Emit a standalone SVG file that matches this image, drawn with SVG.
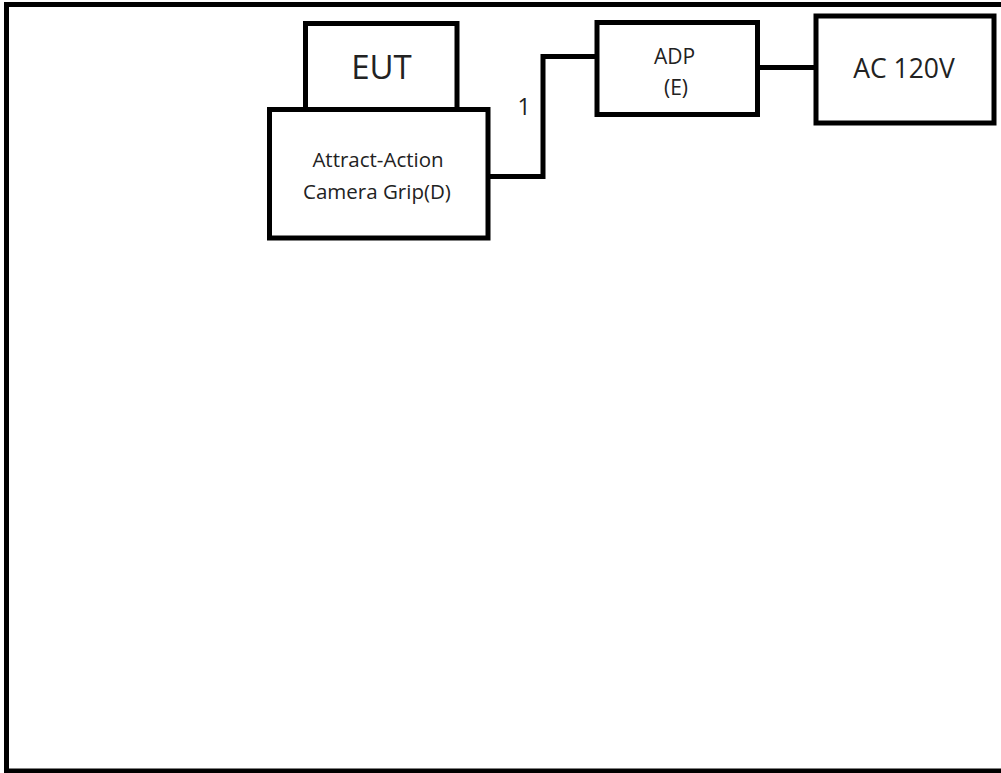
<svg xmlns="http://www.w3.org/2000/svg" width="1001" height="773" viewBox="0 0 1001 773">
<style>
.box{fill:#fff;stroke:#000;stroke-width:5}
.wire{fill:none;stroke:#000;stroke-width:5}
text{font-family:"Open Sans","Noto Sans","Liberation Sans",sans-serif;fill:#222;text-anchor:middle}
</style>
<rect x="0" y="0" width="1001" height="773" fill="#fff"/>
<rect x="6.5" y="4.5" width="1010" height="766.5" fill="none" stroke="#000" stroke-width="5"/>
<g id="connectors">
<polyline class="wire" points="488,176.5 543,176.5 543,56.5 597,56.5"/>
<line class="wire" x1="757.5" y1="67.5" x2="816" y2="67.5"/>
</g>
<g id="eut">
<rect class="box" x="305.5" y="23.5" width="151.5" height="86"/>
<text x="381.5" y="78.5" font-size="33">EUT</text>
</g>
<g id="grip">
<rect class="box" x="269.5" y="109.5" width="218.5" height="128.5"/>
<text x="378" y="167" font-size="20.5">Attract-Action</text>
<text x="377" y="199" font-size="20.5">Camera Grip(D)</text>
</g>
<g id="adp">
<rect class="box" x="597" y="22.5" width="160.5" height="92"/>
<text x="674.5" y="64" font-size="21">ADP</text>
<text x="676" y="95" font-size="21">(E)</text>
</g>
<g id="ac">
<rect class="box" x="816" y="16" width="178" height="107"/>
<text x="904" y="78.3" font-size="26.5">AC 120V</text>
</g>
<text x="524" y="115" font-size="23">1</text>
</svg>
